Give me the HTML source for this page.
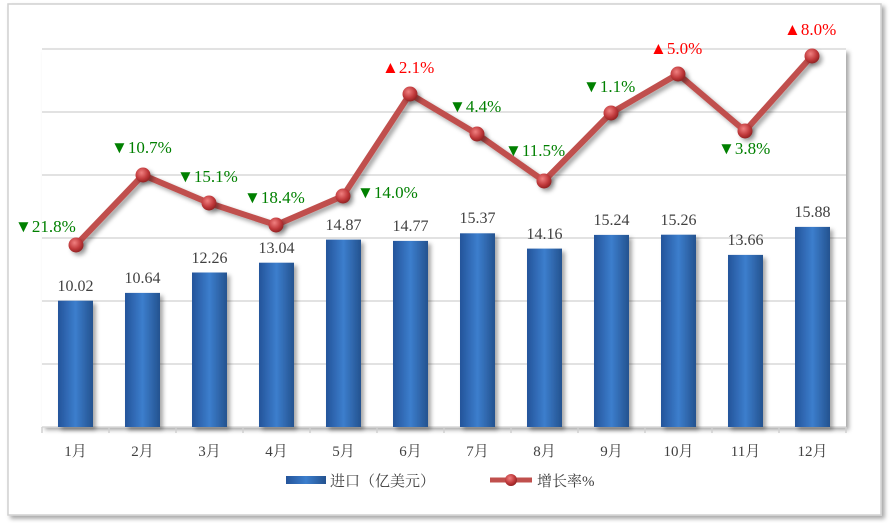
<!DOCTYPE html>
<html><head><meta charset="utf-8"><style>
body{margin:0;background:#fff;}
svg{display:block;font-family:"Liberation Serif","Noto Serif CJK SC",serif;}
</style></head><body>
<svg width="894" height="523" viewBox="0 0 894 523">
<defs>
<linearGradient id="bar" x1="0" x2="1" y1="0" y2="0">
<stop offset="0" stop-color="#24549a"/><stop offset="0.5" stop-color="#3c7ecd"/><stop offset="1" stop-color="#24528f"/>
</linearGradient>
<radialGradient id="ball" cx="0.4" cy="0.35" r="0.7">
<stop offset="0" stop-color="#f08080"/><stop offset="0.6" stop-color="#c0393b"/><stop offset="1" stop-color="#8a1f1f"/>
</radialGradient>
<filter id="sh" x="-20%" y="-20%" width="150%" height="150%"><feDropShadow dx="3" dy="3" stdDeviation="2" flood-opacity="0.35"/></filter>
</defs>
<rect x="8" y="4" width="873" height="511" fill="#fff" stroke="#d0d0d0" stroke-width="1.5" filter="url(#sh)"/>
<rect x="42" y="49" width="804" height="378" fill="#fff" filter="url(#sh)"/>
<g stroke="#d9d9d9" stroke-width="1.5">
<line x1="42" x2="846" y1="49" y2="49"/><line x1="42" x2="846" y1="112" y2="112"/>
<line x1="42" x2="846" y1="175" y2="175"/><line x1="42" x2="846" y1="238" y2="238"/>
<line x1="42" x2="846" y1="301" y2="301"/><line x1="42" x2="846" y1="364" y2="364"/>
<line x1="42" x2="846" y1="427" y2="427"/>
</g>
<g stroke="#d0d0d0" stroke-width="1.5">
<line x1="42" x2="42" y1="427" y2="433"/><line x1="109" x2="109" y1="427" y2="433"/><line x1="176" x2="176" y1="427" y2="433"/><line x1="243" x2="243" y1="427" y2="433"/><line x1="310" x2="310" y1="427" y2="433"/><line x1="377" x2="377" y1="427" y2="433"/><line x1="444" x2="444" y1="427" y2="433"/><line x1="511" x2="511" y1="427" y2="433"/><line x1="578" x2="578" y1="427" y2="433"/><line x1="645" x2="645" y1="427" y2="433"/><line x1="712" x2="712" y1="427" y2="433"/><line x1="779" x2="779" y1="427" y2="433"/><line x1="846" x2="846" y1="427" y2="433"/>
</g>
<g id="bars" filter="url(#sh)" fill="url(#bar)">
<rect x="58" y="300.7" width="35" height="126.3"/>
<rect x="125" y="292.9" width="35" height="134.1"/>
<rect x="192" y="272.5" width="35" height="154.5"/>
<rect x="259" y="262.7" width="35" height="164.3"/>
<rect x="326" y="239.6" width="35" height="187.4"/>
<rect x="393" y="240.9" width="35" height="186.1"/>
<rect x="460" y="233.3" width="35" height="193.7"/>
<rect x="527" y="248.6" width="35" height="178.4"/>
<rect x="594" y="234.9" width="35" height="192.1"/>
<rect x="661" y="234.7" width="35" height="192.3"/>
<rect x="728" y="254.9" width="35" height="172.1"/>
<rect x="795" y="226.9" width="35" height="200.1"/>
</g>
<g fill="#404040" font-size="16" text-anchor="middle">
<text x="75.5" y="291">10.02</text><text x="142.5" y="283">10.64</text><text x="209.5" y="263">12.26</text><text x="276.5" y="253">13.04</text><text x="343.5" y="230">14.87</text><text x="410.5" y="231">14.77</text><text x="477.5" y="223">15.37</text><text x="544.5" y="239">14.16</text><text x="611.5" y="225">15.24</text><text x="678.5" y="225">15.26</text><text x="745.5" y="245">13.66</text><text x="812.5" y="217">15.88</text>
</g>
<polyline points="76,245 143,175 209,203 276,225 343,196 410,94 477,134 544,181 611,113 678,74 745,131 812,56" fill="none" stroke="#c0504d" stroke-width="6" stroke-linejoin="round" filter="url(#sh)"/>
<g fill="url(#ball)" filter="url(#sh)">
<circle cx="76" cy="245" r="7.5"/><circle cx="143" cy="175" r="7.5"/><circle cx="209" cy="203" r="7.5"/><circle cx="276" cy="225" r="7.5"/><circle cx="343" cy="196" r="7.5"/><circle cx="410" cy="94" r="7.5"/><circle cx="477" cy="134" r="7.5"/><circle cx="544" cy="181" r="7.5"/><circle cx="611" cy="113" r="7.5"/><circle cx="678" cy="74" r="7.5"/><circle cx="745" cy="131" r="7.5"/><circle cx="812" cy="56" r="7.5"/>
</g>
<g font-size="17" fill="#008000">
<text x="15" y="232">▼21.8%</text>
<text x="111" y="153">▼10.7%</text>
<text x="177" y="182">▼15.1%</text>
<text x="244" y="203">▼18.4%</text>
<text x="357" y="198">▼14.0%</text>
<text x="449" y="112">▼4.4%</text>
<text x="505" y="156">▼11.5%</text>
<text x="583" y="92">▼1.1%</text>
<text x="718" y="154">▼3.8%</text>
</g>
<g font-size="17" fill="#ff0000">
<text x="382" y="73">▲2.1%</text>
<text x="650" y="54">▲5.0%</text>
<text x="784" y="35">▲8.0%</text>
</g>
<g fill="#404040" font-size="15" text-anchor="middle">
<text x="75.5" y="456">1月</text><text x="142.5" y="456">2月</text><text x="209.5" y="456">3月</text><text x="276.5" y="456">4月</text><text x="343.5" y="456">5月</text><text x="410.5" y="456">6月</text><text x="477.5" y="456">7月</text><text x="544.5" y="456">8月</text><text x="611.5" y="456">9月</text><text x="678.5" y="456">10月</text><text x="745.5" y="456">11月</text><text x="812.5" y="456">12月</text>
</g>
<rect x="286" y="476" width="40" height="8" fill="url(#bar)"/>
<text x="330" y="486" font-size="15" fill="#404040">进口（亿美元）</text>
<line x1="490" x2="532" y1="480" y2="480" stroke="#c0504d" stroke-width="5"/>
<circle cx="511" cy="480" r="6" fill="url(#ball)"/>
<text x="537" y="486" font-size="15" fill="#404040">增长率%</text>
</svg>
</body></html>
